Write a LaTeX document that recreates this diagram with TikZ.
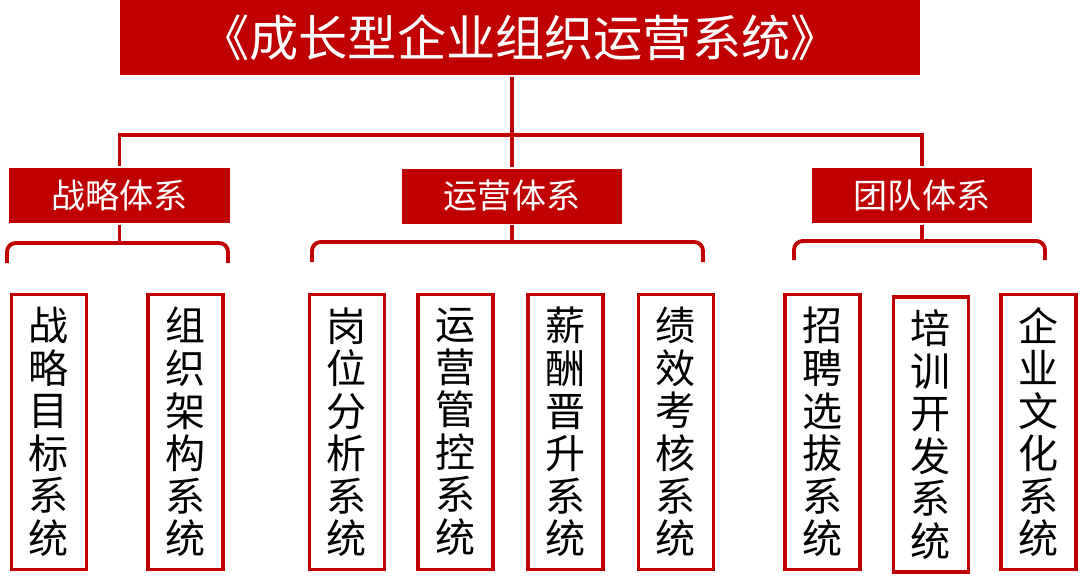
\documentclass[tikz,border=0pt]{standalone}
\usepackage{fontspec}
\setmainfont{Noto Sans CJK SC}
\definecolor{darkred}{RGB}{192,0,0}
\tikzset{every picture/.style={line width=2.2pt}}

\begin{document}
\begin{tikzpicture}[x=0.02cm, y=-0.02cm,
    titlebox/.style={fill=darkred, text=white, minimum width=16cm, minimum height=1.5cm, inner sep=0pt, font=\fontsize{28pt}{32pt}\selectfont},
    groupbox/.style={fill=darkred, text=white, minimum width=4.42cm, minimum height=1.1cm, inner sep=0pt, font=\fontsize{19.4pt}{22pt}\selectfont},
    leafbox/.style={draw=darkred, line width=2pt, fill=white, minimum width=1.5cm, minimum height=5.5cm, inner sep=0pt, align=center, font=\fontsize{22.8pt}{24.2pt}\selectfont},
    link/.style={draw=darkred, line width=2.2pt},
    brace/.style={draw=darkred, line width=2.2pt, rounded corners=5pt}]
        \useasboundingbox (0,0) rectangle (1080,576);
        \node[titlebox] (title) at (520, 37.5) {《成长型企业组织运营系统》};
        \node[groupbox] (strat) at (119.5, 195.5) {战略体系};
        \node[groupbox] (oper)  at (512, 196)     {运营体系};
        \node[groupbox] (team)  at (922, 195.5)   {团队体系};
        \coordinate (bus) at (512, 135);
        \draw[link] (title.south -| oper.north) -- (oper.north);
        \draw[link] (strat.north) |- (bus) -| (team.north);
        \node[leafbox] (goal)    at (49, 432)     {战\\略\\目\\标\\系\\统};
        \node[leafbox] (frame)   at (185.5, 432)  {组\\织\\架\\构\\系\\统};
        \node[leafbox] (post)    at (347, 432)    {岗\\位\\分\\析\\系\\统};
        \node[leafbox] (control) at (455.5, 432)  {运\\营\\管\\控\\系\\统};
        \node[leafbox] (pay)     at (565.5, 432)  {薪\\酬\\晋\\升\\系\\统};
        \node[leafbox] (perf)    at (676, 432)    {绩\\效\\考\\核\\系\\统};
        \node[leafbox] (hire)    at (822.5, 432)  {招\\聘\\选\\拔\\系\\统};
        \node[leafbox] (train)   at (931, 434.5)  {培\\训\\开\\发\\系\\统};
        \node[leafbox] (culture) at (1038.5, 432) {企\\业\\文\\化\\系\\统};
        \coordinate (sBar) at (119.5, 243); \coordinate (sL) at (7, 263);   \coordinate (sR) at (228, 263);
        \coordinate (oBar) at (512, 242);   \coordinate (oL) at (312, 262); \coordinate (oR) at (703, 262);
        \coordinate (tBar) at (922, 241);   \coordinate (tL) at (794, 260); \coordinate (tR) at (1045, 260);
        \draw[link] (strat.south) -- (sBar);
        \draw[brace] (sL) |- (sBar) -| (sR);
        \draw[link] (oper.south) -- (oBar);
        \draw[brace] (oL) |- (oBar) -| (oR);
        \draw[link] (team.south) -- (tBar);
        \draw[brace] (tL) |- (tBar) -| (tR);
    \end{tikzpicture}
\end{document}
